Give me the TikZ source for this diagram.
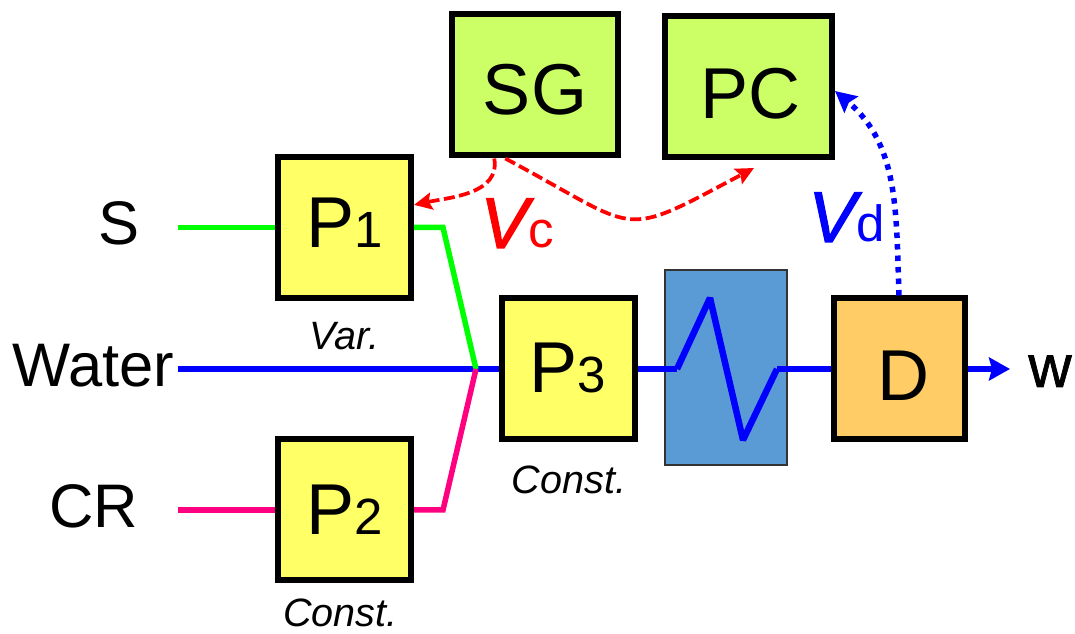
\documentclass[tikz,border=0pt]{standalone}
\usepackage{fontspec}
\setmainfont{Liberation Sans}
\newfontface\heavyslant[FakeBold=1.5]{Liberation Sans Italic}
\newfontface\heavyface[FakeBold=1.2]{Liberation Sans}
\usetikzlibrary{arrows.meta,positioning,calc}

\definecolor{boxYellow}{HTML}{FFFF66}
\definecolor{boxLime}{HTML}{CCFF66}
\definecolor{boxOrange}{HTML}{FFCC66}
\definecolor{boxBlue}{HTML}{5B9BD5}
\definecolor{linePink}{HTML}{FF0080}
\definecolor{lineGreen}{HTML}{00FF00}

\newcommand{\bigsize}{\fontsize{41}{45}\selectfont}
\newcommand{\subsize}{\fontsize{29}{32}\selectfont}

\begin{document}
\begin{tikzpicture}
    [block/.style 2 args={
        draw,
        line width=0.12cm,
        fill=#1,
        font=\bigsize,
        inner sep=0pt,
        text height=1.04cm,
        text depth=0pt,
        minimum width=#2,
        minimum height=2.82cm
    },
    block/.default={boxYellow}{2.66cm},
    side label/.style={font=\fontsize{35}{38}\selectfont,inner sep=0pt,anchor=base},
    rate note/.style={font=\fontsize{22.5}{26}\selectfont\itshape,inner sep=0pt},
    volt label/.style={inner sep=0pt,anchor=base west},
    pipe/.style={line width=0.11cm},
    arrow/.style 2 args={-{Stealth[length=#1,width=#2,inset=0.06cm]}},
    arrow/.default={0.36cm}{0.34cm},
    feed/.style={draw=red,line width=0.075cm,dash pattern=on 0.22cm off 0.09cm}]

    \useasboundingbox (0,0) rectangle (21.5,12.68);

    %%% content
    \coordinate (sStart) at (3.56,8.13);
    \coordinate (waterStart) at (3.56,5.30);
    \coordinate (crStart) at (3.56,2.48);
    \coordinate (sBend) at (8.86,8.13);
    \coordinate (crBend) at (8.86,2.48);
    \coordinate (mix) at (9.52,5.30);
    \coordinate (wEnd) at (20.2,5.30);
    \coordinate (zigA) at (13.54,5.30);
    \coordinate (zigB) at (14.20,6.72);
    \coordinate (zigC) at (14.86,3.88);
    \coordinate (zigD) at (15.54,5.30);
    \coordinate (pcIn) at (15.08,9.32);

    \node (heatEx) [draw=black!80,line width=0.05cm,fill=boxBlue,minimum width=2.44cm,minimum height=3.9cm] at (14.52,5.33) {};

    \node (sg) [block={boxLime}{3.32cm},text height=1.2cm] at (10.70,10.98) {SG};
    \node (pc) [block={boxLime}{3.34cm},text height=1.3cm] at (14.97,10.95) {\hspace*{0.08cm}PC};
    \node (p1) [block,text height=0.82cm] at (6.89,8.13) {P{\subsize 1}};
    \node (p2) [block,text height=1cm] at (6.89,2.48) {P{\subsize 2}};
    \node (p3) [block,text height=0.96cm] at (11.36,5.30) {P{\subsize 3}};
    \node (d) [block={boxOrange}{2.62cm},text height=1.28cm] at (17.98,5.30) {\hspace*{0.2cm}D};

    \node (sLabel) [side label] at (2.38,7.78) {S};
    \node (waterLabel) [side label,anchor=base east] at (3.49,4.94) {Water};
    \node (crLabel) [side label] at (1.87,2.12) {CR};
    \node (wLabel) [side label,font=\fontsize{34}{36}\heavyface] at (21.0,4.94) {w};

    \node (p1Note) [rate note,below=0.42cm of p1] {Var.};
    \node (p2Note) [rate note,below=0.3cm of p2,xshift=-0.08cm] {Const.};
    \node (p3Note) [rate note,below=0.46cm of p3,xshift=0.02cm] {Const.};

    \node (vc) [volt label,red] at (9.60,7.72) {{\bigsize\heavyslant V}{\subsize c}};
    \node (vd) [volt label,blue] at (16.16,7.84) {{\bigsize\heavyslant V}{\subsize d}};

    %% lines
    \draw[pipe,draw=blue] (waterStart) -- (p3.west);
    \draw[pipe,draw=blue] (p3.east) -- (zigA);
    \draw[draw=blue,line width=0.13cm,line join=bevel] (zigA) -- (zigB) -- (zigC) -- (zigD);
    \draw[pipe,draw=blue] (zigD) -- (d.west);
    \draw[pipe,draw=blue,arrow={0.42cm}{0.46cm}] (d.east) -- (wEnd);
    \draw[pipe,draw=lineGreen] (sStart) -- (p1.west);
    \draw[pipe,draw=lineGreen] (p1.east) -- (sBend) -- (mix);
    \draw[pipe,draw=linePink] (crStart) -- (p2.west);
    \draw[pipe,draw=linePink] (p2.east) -- (crBend) -- (mix);

    \draw[arrow,feed] (sg.-119) to[out=-80,in=12] (p1.18);
    \draw[arrow,feed] (sg.-112) to[out=-28,in=208,looseness=1.6] (pcIn);
    \draw[arrow={0.42cm}{0.42cm},draw=blue,line width=0.11cm,dash pattern=on 0.11cm off 0.12cm] (d.north) to[out=92,in=-40] (pc.-3);
\end{tikzpicture}
\end{document}
